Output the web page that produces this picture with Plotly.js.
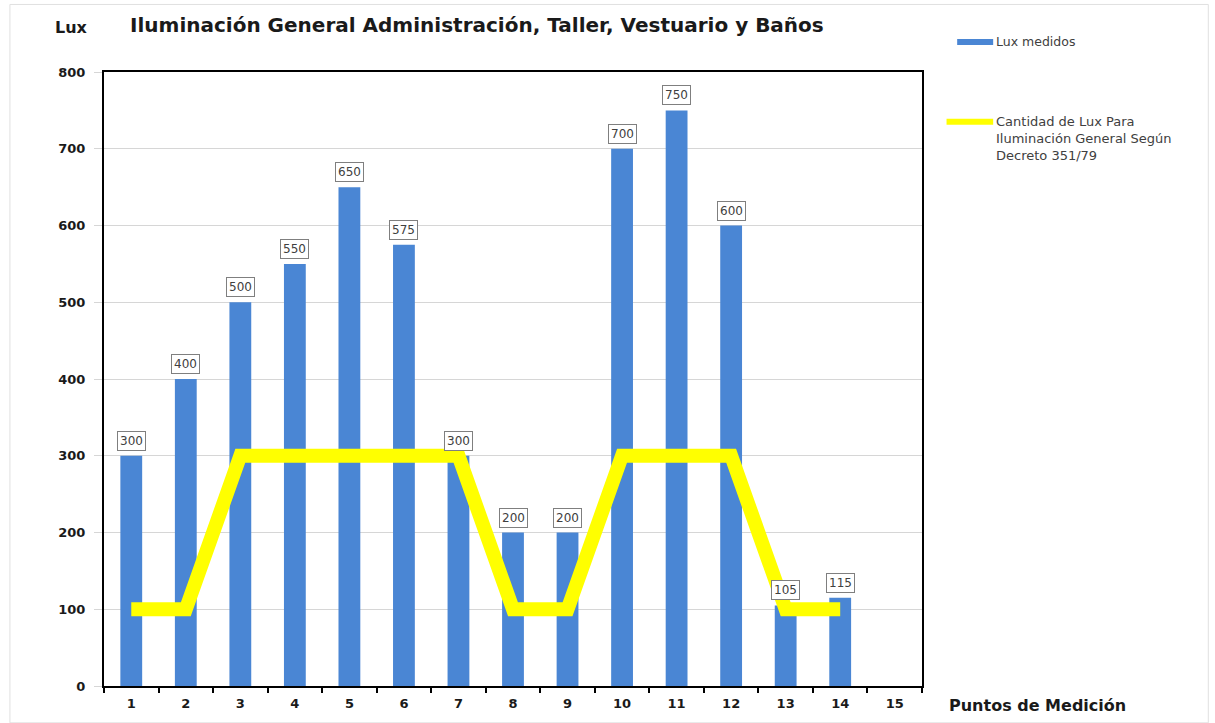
<!DOCTYPE html>
<html>
<head>
<meta charset="utf-8">
<script src="https://cdn.plot.ly/plotly-3.0.1.min.js"></script>
<style>html,body{margin:0;padding:0;background:#fff;}#chart{width:1215px;height:723px;}</style>
</head>
<body>
<div id="chart"></div>
<script>
const categories = ["1","2","3","4","5","6","7","8","9","10","11","12","13","14","15"];
const luxMedidos = [300,400,500,550,650,575,300,200,200,700,750,600,105,115,null];
const luxDecreto = [100,100,300,300,300,300,300,100,100,300,300,300,100,100];
const seriesNames = ["Lux medidos","Cantidad de Lux Para<br>Iluminación General Según<br>Decreto 351/79"];
const titleText = "Iluminación General Administración, Taller, Vestuario y Baños";
const yTitle = "Lux";
const xTitle = "Puntos de Medición";
const yTicks = [0,100,200,300,400,500,600,700,800];

const barColor = "#4a86d4";
const lineColor = "#ffff00";

const traces = [
  {type:"bar", x:categories, y:luxMedidos, name:seriesNames[0], marker:{color:barColor}, width:0.4, hoverinfo:"x+y"},
  {type:"scatter", mode:"lines", x:categories.slice(0,luxDecreto.length), y:luxDecreto, name:seriesNames[1], line:{color:lineColor,width:14}, hoverinfo:"x+y"}
];

const annotations = [];
luxMedidos.forEach((v,i)=>{
  if(v===null) return;
  annotations.push({x:i, y:v, xref:"x", yref:"y", text:String(v), showarrow:false,
    yshift:15, yanchor:"middle", bgcolor:"#ffffff", bordercolor:"#7f7f7f", borderwidth:1, borderpad:2,
    font:{family:"DejaVu Sans", size:12, color:"#404040"}});
});
annotations.push({xref:"paper", yref:"paper", x:-0.017, y:1.073, text:"<b>"+yTitle+"</b>", showarrow:false, xanchor:"right", yanchor:"middle",
  font:{family:"DejaVu Sans", size:16, color:"#1a1a1a"}});
annotations.push({xref:"paper", yref:"paper", x:1.03, y:-0.032, text:"<b>"+xTitle+"</b>", showarrow:false, xanchor:"left", yanchor:"middle",
  font:{family:"DejaVu Sans", size:16, color:"#1a1a1a"}});
annotations.push({xref:"paper", yref:"paper", x:1.088, y:1.049, text:seriesNames[0], showarrow:false, xanchor:"left", yanchor:"middle",
  font:{family:"DejaVu Sans", size:12.5, color:"#404040"}});
annotations.push({xref:"paper", yref:"paper", x:1.088, y:0.935, text:seriesNames[1], showarrow:false, xanchor:"left", yanchor:"top", align:"left",
  font:{family:"DejaVu Sans", size:13, color:"#404040"}});

const shapes = [
  {type:"line", xref:"paper", yref:"paper", x0:1.043, x1:1.087, y0:1.049, y1:1.049, line:{color:barColor,width:6}},
  {type:"line", xref:"paper", yref:"paper", x0:1.03, x1:1.087, y0:0.919, y1:0.919, line:{color:lineColor,width:6}},
  {type:"rect", xref:"paper", yref:"paper", x0:-0.115, x1:1.35, y0:-0.06, y1:1.11, line:{color:"#e0e0e0",width:1}, layer:"below"}
];

const layout = {
  width:1215, height:723,
  margin:{l:104, r:293, t:72, b:37},
  paper_bgcolor:"#ffffff", plot_bgcolor:"#ffffff",
  showlegend:false,
  title:{text:"<b>"+titleText+"</b>", xref:"container", yref:"container", x:0.107, xanchor:"left", y:0.965, yanchor:"middle",
    font:{family:"DejaVu Sans", size:20, color:"#1a1a1a"}},
  xaxis:{type:"category", range:[-0.5,14.5], tickson:"boundaries", ticks:"outside", ticklen:5, tickwidth:2, tickcolor:"#000",
    showline:true, linecolor:"#000", linewidth:2, mirror:true, showgrid:false, zeroline:false,
    tickfont:{family:"DejaVu Sans", size:13, color:"#1a1a1a", weight:"bold"}, ticklabelstandoff:4, fixedrange:true},
  yaxis:{range:[0,800], tickvals:yTicks, ticks:"outside", ticklen:8, tickcolor:"#d6d6d6",
    showline:true, linecolor:"#000", linewidth:2, mirror:true, showgrid:true, gridcolor:"#d6d6d6", gridwidth:1, zeroline:false,
    tickfont:{family:"DejaVu Sans", size:13, color:"#1a1a1a", weight:"bold"}, ticklabelstandoff:6, fixedrange:true},
  bargap:0.6,
  annotations:annotations,
  shapes:shapes
};

Plotly.newPlot("chart", traces, layout, {displayModeBar:false, staticPlot:true});
</script>
</body>
</html>
